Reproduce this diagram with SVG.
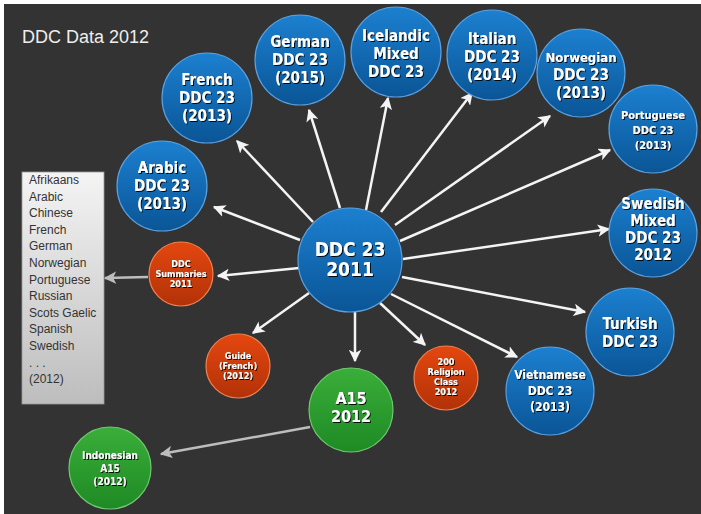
<svg xmlns="http://www.w3.org/2000/svg" width="701" height="514" viewBox="0 0 701 514">
<defs>
<linearGradient id="gb" x1="0" y1="0" x2="0" y2="1"><stop offset="0" stop-color="#1c80d0"/><stop offset="1" stop-color="#0a5596"/></linearGradient>
<linearGradient id="gr" x1="0" y1="0" x2="0" y2="1"><stop offset="0" stop-color="#e4470f"/><stop offset="1" stop-color="#b23208"/></linearGradient>
<linearGradient id="gg" x1="0" y1="0" x2="0" y2="1"><stop offset="0" stop-color="#3aae3a"/><stop offset="1" stop-color="#1e8a24"/></linearGradient>
<linearGradient id="gl" x1="0" y1="0" x2="0" y2="1"><stop offset="0" stop-color="#f4f4f4"/><stop offset="1" stop-color="#bdbdbd"/></linearGradient>
<marker id="aw" viewBox="0 0 10 10" refX="9" refY="5" markerWidth="5" markerHeight="5" orient="auto" markerUnits="strokeWidth"><path d="M0,0 L10,5 L0,10 L2.5,5 Z" fill="#f4f4f4"/></marker>
<marker id="ag" viewBox="0 0 10 10" refX="9" refY="5" markerWidth="5" markerHeight="5" orient="auto" markerUnits="strokeWidth"><path d="M0,0 L10,5 L0,10 L2.5,5 Z" fill="#bdbdbd"/></marker>
<filter id="sh" x="-10%" y="-10%" width="120%" height="130%"><feDropShadow dx="1" dy="1" stdDeviation="0.6" flood-color="#000" flood-opacity="0.9"/></filter>
</defs>
<style>
.b{fill:url(#gb);stroke:#5aa0e0;stroke-width:1.2}
.r{fill:url(#gr);stroke:#f08050;stroke-width:1.2}
.g{fill:url(#gg);stroke:#70c870;stroke-width:1.2}
.t{font-family:"DejaVu Sans Condensed","DejaVu Sans",sans-serif;font-weight:bold;fill:#fff;text-anchor:middle;filter:url(#sh)}
.m{font-size:15px}
.s{font-size:9px}
.l{font-family:"Liberation Sans",Arial,sans-serif;font-size:12px;fill:#333}
.c line{stroke:#f4f4f4;stroke-width:2.5;marker-end:url(#aw)}
.c line.gy{stroke:#bdbdbd;marker-end:url(#ag)}
</style>
<rect x="0" y="0" width="701" height="514" fill="#fff"/>
<rect x="4" y="4" width="697" height="510" fill="#333333"/>
<text x="22" y="43" font-family="Liberation Sans,Arial,sans-serif" font-size="18" fill="#eeeeee">DDC Data 2012</text>

<g id="list">
<rect x="22" y="172" width="82" height="232" fill="url(#gl)" stroke="#999" stroke-width="0.8"/>
<text class="l" x="29" y="184">Afrikaans</text>
<text class="l" x="29" y="200.6">Arabic</text>
<text class="l" x="29" y="217.2">Chinese</text>
<text class="l" x="29" y="233.8">French</text>
<text class="l" x="29" y="250.4">German</text>
<text class="l" x="29" y="267">Norwegian</text>
<text class="l" x="29" y="283.6">Portuguese</text>
<text class="l" x="29" y="300.2">Russian</text>
<text class="l" x="29" y="316.8">Scots Gaelic</text>
<text class="l" x="29" y="333.4">Spanish</text>
<text class="l" x="29" y="350">Swedish</text>
<text class="l" x="29" y="366.6" fill="#999" font-size="9">. . .</text>
<text class="l" x="29" y="383.2">(2012)</text>
</g>

<g class="c" id="connectors">
<line x1="313" y1="222" x2="237" y2="141"/>
<line x1="340" y1="208" x2="309" y2="110"/>
<line x1="300" y1="240" x2="214" y2="207"/>
<line x1="366" y1="210" x2="388" y2="98"/>
<line x1="381" y1="212" x2="472" y2="93"/>
<line x1="395" y1="225" x2="550" y2="116"/>
<line x1="400" y1="241" x2="610" y2="150"/>
<line x1="403" y1="259" x2="609" y2="229"/>
<line x1="402" y1="277" x2="585" y2="312"/>
<line x1="391" y1="294" x2="517" y2="357"/>
<line x1="380" y1="303" x2="425" y2="345"/>
<line x1="355" y1="312" x2="355" y2="361"/>
<line x1="309" y1="293" x2="253" y2="333"/>
<line x1="299" y1="268" x2="218" y2="276"/>
<line class="gy" x1="148" y1="277" x2="105" y2="278"/>
<line class="gy" x1="310" y1="427" x2="161" y2="454"/>
</g>

<g id="main"><circle class="b" cx="350" cy="260" r="52"/><text class="t" font-size="19" x="350" y="256">DDC 23</text><text class="t" font-size="19" x="350" y="276">2011</text></g>
<g id="french"><circle class="b" cx="207" cy="98" r="45"/><text class="t m" x="207" y="85">French</text><text class="t m" x="207" y="103">DDC 23</text><text class="t m" x="207" y="121">(2013)</text></g>
<g id="german"><circle class="b" cx="300" cy="60" r="45"/><text class="t m" x="300" y="47">German</text><text class="t m" x="300" y="65">DDC 23</text><text class="t m" x="300" y="83">(2015)</text></g>
<g id="arabic"><circle class="b" cx="162" cy="186" r="45"/><text class="t m" x="162" y="173">Arabic</text><text class="t m" x="162" y="191">DDC 23</text><text class="t m" x="162" y="209">(2013)</text></g>
<g id="icelandic"><circle class="b" cx="396" cy="52" r="45"/><text class="t m" x="396" y="41">Icelandic</text><text class="t m" x="396" y="59">Mixed</text><text class="t m" x="396" y="77">DDC 23</text></g>
<g id="italian"><circle class="b" cx="492" cy="55" r="45"/><text class="t m" x="492" y="44">Italian</text><text class="t m" x="492" y="62">DDC 23</text><text class="t m" x="492" y="80">(2014)</text></g>
<g id="norwegian"><circle class="b" cx="581" cy="73" r="44"/><text class="t" font-size="13" x="581" y="62">Norwegian</text><text class="t m" x="581" y="80">DDC 23</text><text class="t m" x="581" y="98">(2013)</text></g>
<g id="portuguese"><circle class="b" cx="653" cy="129" r="44"/><text class="t" font-size="11" x="653" y="119">Portuguese</text><text class="t" font-size="11" x="653" y="134">DDC 23</text><text class="t" font-size="11" x="653" y="149">(2013)</text></g>
<g id="swedish"><circle class="b" cx="653" cy="233" r="44"/><text class="t m" x="653" y="209">Swedish</text><text class="t m" x="653" y="226">Mixed</text><text class="t m" x="653" y="243">DDC 23</text><text class="t m" x="653" y="260">2012</text></g>
<g id="turkish"><circle class="b" cx="630" cy="332" r="44"/><text class="t m" x="630" y="329">Turkish</text><text class="t m" x="630" y="347">DDC 23</text></g>
<g id="vietnamese"><circle class="b" cx="550" cy="391" r="44"/><text class="t" font-size="12" x="550" y="379">Vietnamese</text><text class="t" font-size="12" x="550" y="395">DDC 23</text><text class="t" font-size="12" x="550" y="411">(2013)</text></g>
<g id="summaries"><circle class="r" cx="181" cy="274" r="32"/><text class="t s" x="181" y="267">DDC</text><text class="t s" x="181" y="277">Summaries</text><text class="t s" x="181" y="287">2011</text></g>
<g id="guide"><circle class="r" cx="238" cy="366" r="32"/><text class="t s" x="238" y="359">Guide</text><text class="t s" x="238" y="369">(French)</text><text class="t s" x="238" y="379">(2012)</text></g>
<g id="religion"><circle class="r" cx="446" cy="378" r="32"/><text class="t s" x="446" y="365">200</text><text class="t s" x="446" y="375">Religion</text><text class="t s" x="446" y="385">Class</text><text class="t s" x="446" y="395">2012</text></g>
<g id="a15"><circle class="g" cx="351" cy="410" r="42"/><text class="t" font-size="16" x="351" y="404">A15</text><text class="t" font-size="16" x="351" y="422">2012</text></g>
<g id="indonesian"><circle class="g" cx="110" cy="468" r="41"/><text class="t" font-size="10" x="110" y="459">Indonesian</text><text class="t" font-size="10" x="110" y="472">A15</text><text class="t" font-size="10" x="110" y="485">(2012)</text></g>
</svg>
